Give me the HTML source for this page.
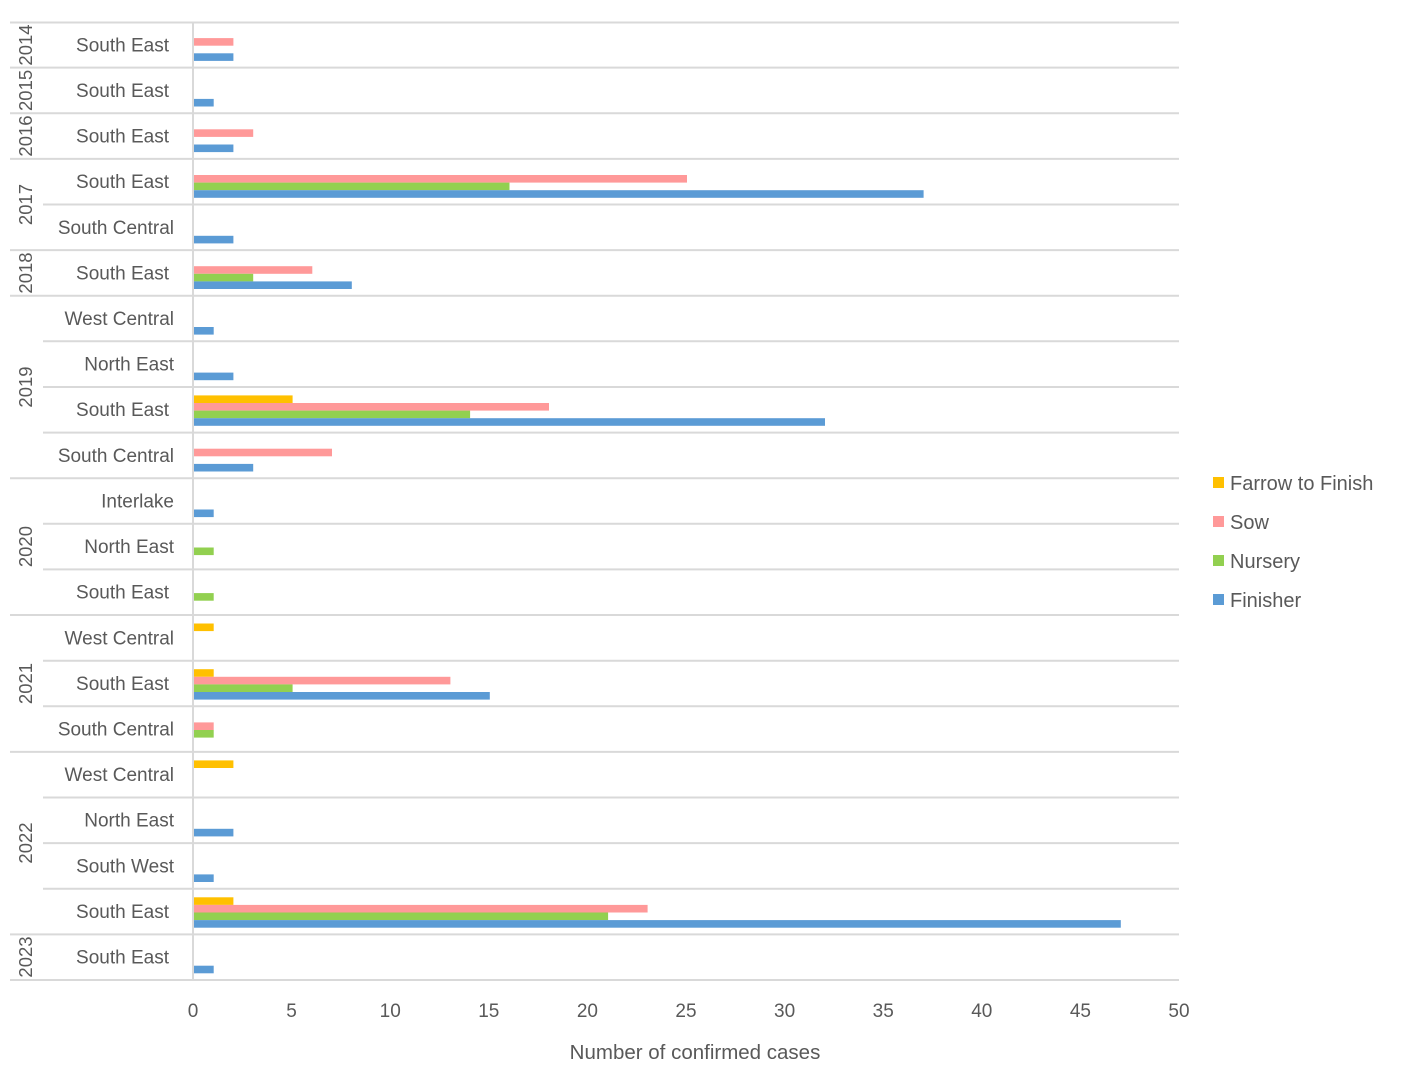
<!DOCTYPE html>
<html><head><meta charset="utf-8"><style>
html,body{margin:0;padding:0;background:#fff;}
svg{display:block;font-family:"Liberation Sans",sans-serif;}
text{fill:#595959;}
</style></head><body>
<svg width="1406" height="1083" viewBox="0 0 1406 1083" xmlns="http://www.w3.org/2000/svg">
<g stroke="#d9d9d9" stroke-width="2">
<line x1="10" y1="22.5" x2="1179" y2="22.5"/>
<line x1="10" y1="67.6" x2="1179" y2="67.6"/>
<line x1="10" y1="113.2" x2="1179" y2="113.2"/>
<line x1="10" y1="158.9" x2="1179" y2="158.9"/>
<line x1="43" y1="204.5" x2="1179" y2="204.5"/>
<line x1="10" y1="250.1" x2="1179" y2="250.1"/>
<line x1="10" y1="295.7" x2="1179" y2="295.7"/>
<line x1="43" y1="341.3" x2="1179" y2="341.3"/>
<line x1="43" y1="387" x2="1179" y2="387"/>
<line x1="43" y1="432.6" x2="1179" y2="432.6"/>
<line x1="10" y1="478.2" x2="1179" y2="478.2"/>
<line x1="43" y1="523.8" x2="1179" y2="523.8"/>
<line x1="43" y1="569.4" x2="1179" y2="569.4"/>
<line x1="10" y1="615" x2="1179" y2="615"/>
<line x1="43" y1="660.7" x2="1179" y2="660.7"/>
<line x1="43" y1="706.3" x2="1179" y2="706.3"/>
<line x1="10" y1="751.9" x2="1179" y2="751.9"/>
<line x1="43" y1="797.5" x2="1179" y2="797.5"/>
<line x1="43" y1="843.1" x2="1179" y2="843.1"/>
<line x1="43" y1="888.8" x2="1179" y2="888.8"/>
<line x1="10" y1="934.4" x2="1179" y2="934.4"/>
<line x1="10" y1="980" x2="1179" y2="980"/>
<line x1="193" y1="22" x2="193" y2="980"/>
</g>
<g>
<rect x="194" y="38.1" width="39.4" height="7.6" fill="#ff9999"/>
<rect x="194" y="53.3" width="39.4" height="7.6" fill="#5b9bd5"/>
<rect x="194" y="98.9" width="19.7" height="7.6" fill="#5b9bd5"/>
<rect x="194" y="129.3" width="59.2" height="7.6" fill="#ff9999"/>
<rect x="194" y="144.5" width="39.4" height="7.6" fill="#5b9bd5"/>
<rect x="194" y="175" width="493" height="7.6" fill="#ff9999"/>
<rect x="194" y="182.6" width="315.5" height="7.6" fill="#92d050"/>
<rect x="194" y="190.2" width="729.6" height="7.6" fill="#5b9bd5"/>
<rect x="194" y="235.8" width="39.4" height="7.6" fill="#5b9bd5"/>
<rect x="194" y="266.2" width="118.3" height="7.6" fill="#ff9999"/>
<rect x="194" y="273.8" width="59.2" height="7.6" fill="#92d050"/>
<rect x="194" y="281.4" width="157.8" height="7.6" fill="#5b9bd5"/>
<rect x="194" y="327" width="19.7" height="7.6" fill="#5b9bd5"/>
<rect x="194" y="372.6" width="39.4" height="7.6" fill="#5b9bd5"/>
<rect x="194" y="395.4" width="98.6" height="7.6" fill="#ffc000"/>
<rect x="194" y="403" width="355" height="7.6" fill="#ff9999"/>
<rect x="194" y="410.6" width="276.1" height="7.6" fill="#92d050"/>
<rect x="194" y="418.2" width="631" height="7.6" fill="#5b9bd5"/>
<rect x="194" y="448.7" width="138" height="7.6" fill="#ff9999"/>
<rect x="194" y="463.9" width="59.2" height="7.6" fill="#5b9bd5"/>
<rect x="194" y="509.5" width="19.7" height="7.6" fill="#5b9bd5"/>
<rect x="194" y="547.5" width="19.7" height="7.6" fill="#92d050"/>
<rect x="194" y="593.1" width="19.7" height="7.6" fill="#92d050"/>
<rect x="194" y="623.5" width="19.7" height="7.6" fill="#ffc000"/>
<rect x="194" y="669.2" width="19.7" height="7.6" fill="#ffc000"/>
<rect x="194" y="676.8" width="256.4" height="7.6" fill="#ff9999"/>
<rect x="194" y="684.4" width="98.6" height="7.6" fill="#92d050"/>
<rect x="194" y="692" width="295.8" height="7.6" fill="#5b9bd5"/>
<rect x="194" y="722.4" width="19.7" height="7.6" fill="#ff9999"/>
<rect x="194" y="730" width="19.7" height="7.6" fill="#92d050"/>
<rect x="194" y="760.4" width="39.4" height="7.6" fill="#ffc000"/>
<rect x="194" y="828.8" width="39.4" height="7.6" fill="#5b9bd5"/>
<rect x="194" y="874.4" width="19.7" height="7.6" fill="#5b9bd5"/>
<rect x="194" y="897.3" width="39.4" height="7.6" fill="#ffc000"/>
<rect x="194" y="904.9" width="453.6" height="7.6" fill="#ff9999"/>
<rect x="194" y="912.5" width="414.1" height="7.6" fill="#92d050"/>
<rect x="194" y="920.1" width="926.8" height="7.6" fill="#5b9bd5"/>
<rect x="194" y="965.7" width="19.7" height="7.6" fill="#5b9bd5"/>
</g>
<g font-size="19" text-anchor="end">
<text x="169" y="51.5">South East</text>
<text x="169" y="97">South East</text>
<text x="169" y="142.5">South East</text>
<text x="169" y="188">South East</text>
<text x="174" y="234">South Central</text>
<text x="169" y="279.5">South East</text>
<text x="174" y="325">West Central</text>
<text x="174" y="370.5">North East</text>
<text x="169" y="416">South East</text>
<text x="174" y="462">South Central</text>
<text x="174" y="507.5">Interlake</text>
<text x="174" y="553">North East</text>
<text x="169" y="598.5">South East</text>
<text x="174" y="644.5">West Central</text>
<text x="169" y="690">South East</text>
<text x="174" y="735.5">South Central</text>
<text x="174" y="781">West Central</text>
<text x="174" y="826.5">North East</text>
<text x="174" y="872.5">South West</text>
<text x="169" y="918">South East</text>
<text x="169" y="963.5">South East</text>
</g>
<g font-size="18.5" text-anchor="middle">
<text transform="translate(32,45) rotate(-90)">2014</text>
<text transform="translate(32,90.4) rotate(-90)">2015</text>
<text transform="translate(32,136) rotate(-90)">2016</text>
<text transform="translate(32,204.5) rotate(-90)">2017</text>
<text transform="translate(32,273) rotate(-90)">2018</text>
<text transform="translate(32,387) rotate(-90)">2019</text>
<text transform="translate(32,546.6) rotate(-90)">2020</text>
<text transform="translate(32,683.5) rotate(-90)">2021</text>
<text transform="translate(32,843) rotate(-90)">2022</text>
<text transform="translate(32,957) rotate(-90)">2023</text>
</g>
<g font-size="19" text-anchor="middle">
<text x="193" y="1017">0</text>
<text x="291.6" y="1017">5</text>
<text x="390.2" y="1017">10</text>
<text x="488.8" y="1017">15</text>
<text x="587.4" y="1017">20</text>
<text x="686" y="1017">25</text>
<text x="784.6" y="1017">30</text>
<text x="883.2" y="1017">35</text>
<text x="981.8" y="1017">40</text>
<text x="1080.4" y="1017">45</text>
<text x="1179" y="1017">50</text>
<text x="695" y="1059" font-size="20.5">Number of confirmed cases</text>
</g>
<g font-size="20">
<rect x="1213" y="477" width="11" height="11" fill="#ffc000"/>
<text x="1230" y="490">Farrow to Finish</text>
<rect x="1213" y="516" width="11" height="11" fill="#ff9999"/>
<text x="1230" y="529">Sow</text>
<rect x="1213" y="555" width="11" height="11" fill="#92d050"/>
<text x="1230" y="568">Nursery</text>
<rect x="1213" y="594" width="11" height="11" fill="#5b9bd5"/>
<text x="1230" y="607">Finisher</text>
</g>
</svg>
</body></html>
